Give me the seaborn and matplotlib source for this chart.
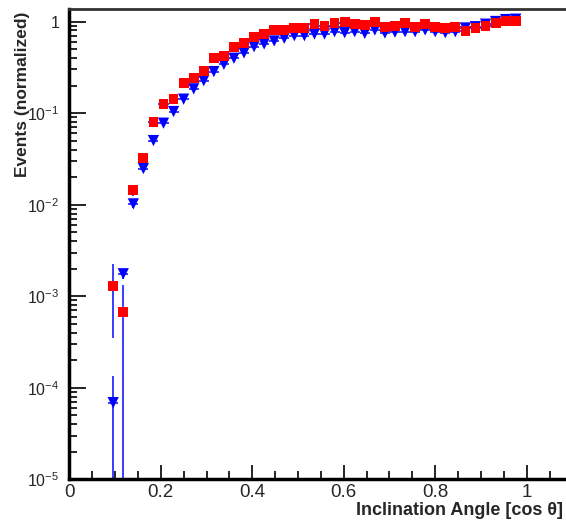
import math
import matplotlib
matplotlib.use("Agg")
import matplotlib.pyplot as plt
import seaborn as sns
import pandas as pd
from matplotlib.ticker import LogLocator, MultipleLocator, FuncFormatter, NullFormatter

# bin centres (cos theta)
cos_theta = [0.096, 0.118, 0.140, 0.162, 0.184, 0.206, 0.228, 0.250, 0.272, 0.294,
             0.316, 0.338, 0.360, 0.382, 0.404, 0.426, 0.448, 0.470, 0.492, 0.514,
             0.536, 0.558, 0.580, 0.602, 0.624, 0.646, 0.668, 0.690, 0.712, 0.734,
             0.756, 0.778, 0.800, 0.822, 0.844, 0.866, 0.888, 0.910, 0.932, 0.954,
             0.976]

# red squares
red_y = [1.3e-3, 6.7e-4, 0.0144, 0.0325, 0.0796, 0.125, 0.143, 0.215, 0.244, 0.289,
         0.403, 0.424, 0.523, 0.582, 0.683, 0.736, 0.801, 0.801, 0.856, 0.856,
         0.932, 0.893, 0.956, 0.980, 0.946, 0.916, 0.987, 0.878, 0.897, 0.956,
         0.878, 0.932, 0.878, 0.843, 0.878, 0.794, 0.856, 0.900, 0.970, 1.01,
         1.01]
red_err = [9.5e-4, 6.7e-4, 2.0e-3, 3.0e-3, 5.0e-3, 6.0e-3, 6.5e-3, 8.0e-3, 8.5e-3, 9.0e-3,
           1.0e-2, 1.0e-2, 1.1e-2, 1.2e-2, 1.2e-2, 1.3e-2, 1.3e-2, 1.3e-2, 1.4e-2, 1.4e-2,
           1.4e-2, 1.4e-2, 1.4e-2, 1.5e-2, 1.5e-2, 1.5e-2, 1.5e-2, 1.5e-2, 1.5e-2, 1.5e-2,
           1.5e-2, 1.5e-2, 1.5e-2, 1.5e-2, 1.5e-2, 1.5e-2, 1.5e-2, 1.5e-2, 1.6e-2, 1.6e-2,
           1.6e-2]

# blue triangles
blue_y = [6.9e-5, 1.76e-3, 0.0102, 0.0248, 0.0501, 0.0776, 0.104, 0.142, 0.184, 0.226,
          0.284, 0.341, 0.397, 0.454, 0.531, 0.569, 0.613, 0.656, 0.700, 0.700,
          0.731, 0.731, 0.774, 0.755, 0.774, 0.743, 0.808, 0.749, 0.765, 0.774,
          0.774, 0.808, 0.774, 0.755, 0.774, 0.850, 0.878, 0.935, 1.00, 1.05,
          1.06]
blue_err = [6.5e-5, 2.0e-4, 1.0e-3, 2.0e-3, 3.0e-3, 4.0e-3, 5.0e-3, 6.0e-3, 7.0e-3, 8.0e-3,
            9.0e-3, 1.0e-2, 1.0e-2, 1.1e-2, 1.2e-2, 1.2e-2, 1.3e-2, 1.3e-2, 1.3e-2, 1.3e-2,
            1.4e-2, 1.4e-2, 1.4e-2, 1.4e-2, 1.4e-2, 1.4e-2, 1.4e-2, 1.4e-2, 1.4e-2, 1.4e-2,
            1.4e-2, 1.4e-2, 1.4e-2, 1.4e-2, 1.4e-2, 1.5e-2, 1.5e-2, 1.5e-2, 1.6e-2, 1.6e-2,
            1.6e-2]

bin_half = 0.011

sns.set_theme(style="ticks")
plt.rcParams['font.family'] = ['Liberation Sans', 'DejaVu Sans']
plt.rcParams['mathtext.fontset'] = 'custom'
plt.rcParams['mathtext.rm'] = 'Liberation Sans'
plt.rcParams['mathtext.it'] = 'Liberation Sans:italic'
plt.rcParams['mathtext.bf'] = 'Liberation Sans:bold'

df = pd.DataFrame({
    'x': cos_theta * 2,
    'y': blue_y + red_y,
    'err': blue_err + red_err,
    'set': ['blue'] * len(blue_y) + ['red'] * len(red_y),
})

fig = plt.figure(figsize=(5.66, 5.21), dpi=100)
ax = fig.add_axes([0.1224, 0.0797, 0.889, 0.9025])

# error bars (drawn in blue for both sets)
for name in ['blue', 'red']:
    d = df[df['set'] == name]
    ax.errorbar(d['x'], d['y'], yerr=d['err'], xerr=bin_half, fmt='none',
                ecolor='#1a1aff', elinewidth=1.2, capsize=0, zorder=2)

sns.scatterplot(data=df, x='x', y='y', hue='set', style='set',
                hue_order=['blue', 'red'], style_order=['blue', 'red'],
                palette={'blue': '#0000ff', 'red': '#ff0000'},
                markers={'blue': 'v', 'red': 's'},
                size='set', sizes={'blue': 66, 'red': 50},
                linewidth=0, legend=False, ax=ax, zorder=3)

ax.set_yscale('log')
ax.set_xlim(0, 1.1)
ax.set_ylim(1e-5, 1.36)

ax.xaxis.set_major_locator(MultipleLocator(0.2))
ax.xaxis.set_minor_locator(MultipleLocator(0.05))
ax.xaxis.set_major_formatter(FuncFormatter(lambda v, p: '0' if abs(v) < 1e-9 else ('1' if abs(v - 1) < 1e-9 else f'{v:.1f}')))
ax.yaxis.set_major_locator(LogLocator(base=10, numticks=10))
ax.yaxis.set_minor_locator(LogLocator(base=10, subs=range(2, 10), numticks=50))
ax.yaxis.set_minor_formatter(NullFormatter())


def fmt_log(v, pos):
    if abs(v - 1) < 1e-9:
        return '1'
    exp = int(round(math.log10(v)))
    return r'$\mathregular{10^{%d}}$' % exp


ax.yaxis.set_major_formatter(FuncFormatter(fmt_log))

ax.tick_params(which='both', direction='in', color='black', width=1.2)
ax.tick_params(axis='x', which='major', length=10, pad=3, labelsize=13.5)
ax.tick_params(axis='x', which='minor', length=6)
ax.tick_params(axis='y', which='major', length=12, pad=7, labelsize=11.5)
ax.tick_params(axis='y', which='minor', length=6)

for side in ['left', 'bottom']:
    ax.spines[side].set_linewidth(2.5)
    ax.spines[side].set_color('black')
ax.spines['top'].set_linewidth(2)
ax.spines['top'].set_color('#333333')
ax.spines['right'].set_visible(False)

ax.set_xlabel('Inclination Angle [cos θ]', fontsize=13, fontweight='bold', loc='right')
ax.xaxis.set_label_coords(0.9815, -0.047)
ax.set_ylabel('Events (normalized)', fontsize=12.5, fontweight='bold', loc='top')
ax.yaxis.set_label_coords(-0.078, 0.995)

fig.savefig('out.png', dpi=100)
